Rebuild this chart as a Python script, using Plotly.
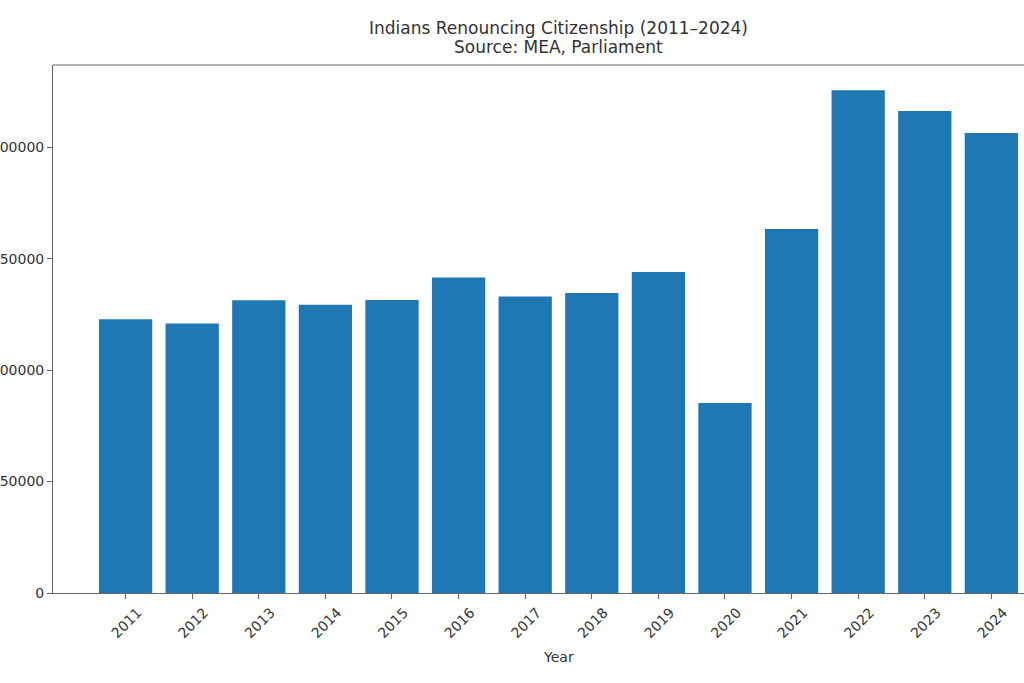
import plotly.graph_objects as go

years = [2011, 2012, 2013, 2014, 2015, 2016, 2017, 2018, 2019, 2020, 2021, 2022, 2023, 2024]
renounced = [122819, 120923, 131405, 129328, 131489, 141603, 133049, 134561, 144017,
             85256, 163370, 225620, 216219, 206378]
y_ticks = [0, 50000, 100000, 150000, 200000]
title_lines = ["Indians Renouncing Citizenship (2011–2024)", "Source: MEA, Parliament"]

W, H = 1024, 683
L, R, T, B = 53, 0, 65, 90
PW, PH = W - L - R, H - T - B

fig = go.Figure(go.Bar(x=years, y=renounced, width=0.8, marker_color="#1f77b4",
                       marker_line_width=0))

axis_color = "#666666"
text_color = "#333333"
fig.update_layout(
    width=W, height=H,
    margin=dict(l=L, r=R, t=T, b=B, pad=0, autoexpand=False),
    paper_bgcolor="white", plot_bgcolor="white",
    font=dict(family="DejaVu Sans", color=text_color, size=13),
    showlegend=False,
    xaxis=dict(range=[years[0] - 1.09, years[0] - 1.09 + PW / 66.6],
               tickmode="array", tickvals=years, ticktext=[str(y) for y in years],
               tickangle=-45, ticks="outside", ticklen=5, tickcolor=axis_color,
               showline=True, linecolor=axis_color, linewidth=1, automargin=False,
               showgrid=False, zeroline=False, ticklabelshift=12, ticklabelstandoff=0,
               tickfont=dict(size=14, color=text_color)),
    yaxis=dict(range=[0, max(renounced) * 1.05], tickmode="array", tickvals=y_ticks,
               ticktext=[str(v) for v in y_ticks], automargin=False,
               ticks="outside", ticklen=5, tickcolor=axis_color,
               showline=True, linecolor=axis_color, linewidth=1,
               showgrid=False, zeroline=False, tickfont=dict(size=14, color=text_color)),
    shapes=[dict(type="line", xref="paper", yref="paper", x0=0, x1=1, y0=1, y1=1,
                 line=dict(color=axis_color, width=1))],
    annotations=[
        dict(text="Year", xref="paper", yref="paper",
             x=(558.5 - L) / PW, y=-(657 - 593) / PH,
             xanchor="center", yanchor="middle", showarrow=False,
             font=dict(size=14, color=text_color)),
        dict(text=title_lines[0], xref="paper", yref="paper",
             x=(558.5 - L) / PW, y=1 + (T - 28) / PH,
             xanchor="center", yanchor="middle", showarrow=False,
             font=dict(size=17, color=text_color)),
        dict(text=title_lines[1], xref="paper", yref="paper",
             x=(558.5 - L) / PW, y=1 + (T - 47) / PH,
             xanchor="center", yanchor="middle", showarrow=False,
             font=dict(size=17, color=text_color)),
    ],
)

fig.write_html("out.html", config={"displayModeBar": False},
               post_script="document.body.style.margin='0';document.body.style.overflow='hidden';")
